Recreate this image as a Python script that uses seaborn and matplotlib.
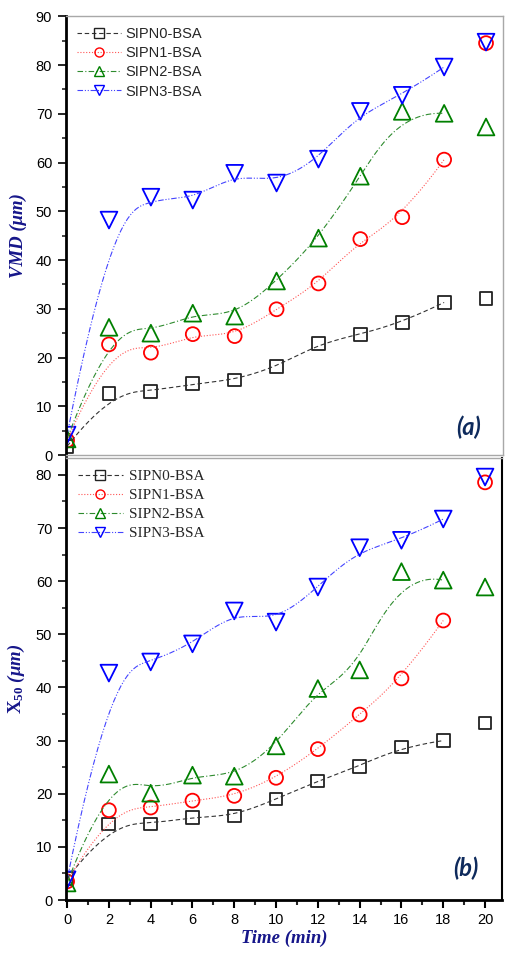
import matplotlib
matplotlib.use("Agg")
import matplotlib.pyplot as plt
from matplotlib.lines import Line2D
from matplotlib.ticker import MultipleLocator
import numpy as np
import pandas as pd
import seaborn as sns

# ---------------- data ----------------
time = [0, 2, 4, 6, 8, 10, 12, 14, 16, 18, 20]
series_names = ["SIPN0-BSA", "SIPN1-BSA", "SIPN2-BSA", "SIPN3-BSA"]

# (a) VMD (um)
vmd_sipn0 = [1.8, 12.7, 13.1, 14.6, 15.4, 18.1, 22.8, 24.8, 27.2, 31.3, 32.1]
vmd_sipn1 = [3.0, 22.7, 21.0, 24.8, 24.4, 29.9, 35.2, 44.3, 48.8, 60.6, 84.5]
vmd_sipn2 = [3.3, 26.2, 25.0, 29.1, 28.5, 35.7, 44.5, 57.2, 70.5, 70.1, 67.3]
vmd_sipn3 = [4.1, 48.2, 52.9, 52.3, 57.8, 55.8, 60.7, 70.5, 73.8, 79.6, 84.7]

# (b) X50 (um)
x50_sipn0 = [4.0, 14.3, 14.3, 15.6, 15.8, 19.0, 22.4, 25.2, 28.8, 30.0, 33.3]
x50_sipn1 = [3.5, 16.9, 17.4, 18.7, 19.6, 23.0, 28.4, 34.9, 41.7, 52.6, 78.6]
x50_sipn2 = [3.2, 23.7, 20.1, 23.5, 23.3, 29.0, 39.8, 43.3, 61.8, 60.2, 58.9]
x50_sipn3 = [3.8, 42.7, 44.8, 48.2, 54.4, 52.3, 58.9, 66.3, 67.7, 71.7, 79.6]

# style per series
colors = ["#222222", "#FF0000", "#008000", "#0000FF"]
line_colors = ["#333333", "#FF5555", "#2E8B2E", "#4444FF"]
markers = ["s", "o", "^", "v"]
marker_area = [85, 100, 145, 145]
dashes = [(4, 2.5), (1, 1.6), (5, 2, 1, 2), (5, 1.6, 1, 1.6, 1, 1.6)]
label_navy = "#16168A"
panel_navy = "#0E2A5C"


def bspline(x, y, n=300, k=3):
    """clamped cubic B-spline using the points as control points"""
    P = np.column_stack([x, y]).astype(float)
    m = len(P)
    knots = np.concatenate([np.zeros(k), np.arange(m - k + 1), np.full(k, m - k)]).astype(float)
    u = np.linspace(0, m - k, n)
    N = np.zeros((n, len(knots) - 1))
    for i in range(len(knots) - 1):
        N[:, i] = (knots[i] <= u) & (u < knots[i + 1])
    N[u == u[-1], m - 1] = 1.0
    for p in range(1, k + 1):
        newN = np.zeros((n, len(knots) - 1 - p))
        for i in range(len(knots) - 1 - p):
            d1 = knots[i + p] - knots[i]
            d2 = knots[i + p + 1] - knots[i + 1]
            term = np.zeros(n)
            if d1 > 0:
                term += (u - knots[i]) / d1 * N[:, i]
            if d2 > 0:
                term += (knots[i + p + 1] - u) / d2 * N[:, i + 1]
            newN[:, i] = term
        N = newN
    C = N @ P
    return C[:, 0], C[:, 1]


sns.set_theme(style="ticks")
plt.rcParams["font.family"] = ["Liberation Sans", "DejaVu Sans"]
plt.rcParams["mathtext.fontset"] = "custom"
plt.rcParams["mathtext.rm"] = "Liberation Serif:bold"
plt.rcParams["mathtext.bf"] = "Liberation Serif:bold"
plt.rcParams["mathtext.it"] = "Liberation Serif:bold:italic"

fig = plt.figure(figsize=(5.12, 9.6), dpi=100)
ax_a = fig.add_axes([0.129, 0.526, 0.853, 0.457])
ax_b = fig.add_axes([0.129, 0.0625, 0.851, 0.4605])


def draw_panel(ax, values, legend_font):
    for vals, c, lc, mk, sz, ds in zip(values, colors, line_colors, markers, marker_area, dashes):
        cx, cy = bspline(time[:10], vals[:10])
        df = pd.DataFrame({"t": cx, "v": cy})
        sns.lineplot(data=df, x="t", y="v", ax=ax, color=lc, linewidth=0.8,
                     dashes=False, sort=False, estimator=None, legend=False)
        ax.lines[-1].set_dashes(ds)
    for vals, c, mk, sz in zip(values, colors, markers, marker_area):
        sns.scatterplot(x=time, y=vals, ax=ax, marker=mk, s=sz, legend=False)
        pc = ax.collections[-1]
        pc.set_facecolor("none")
        pc.set_edgecolor(c)
        pc.set_linewidth(1.3)

    handles = [Line2D([], [], color=lc, lw=0.8, dashes=ds, marker=mk, ms=6.5,
                      mfc="none", mec=c, mew=1.0)
               for c, lc, mk, ds in zip(colors, line_colors, markers, dashes)]
    ax.legend(handles, series_names, loc="upper left", frameon=False,
              prop=legend_font, handlelength=3.0, handletextpad=0.35,
              labelspacing=0.35, borderaxespad=0.45, borderpad=0.3)

    ax.set_xlim(-0.05, 20.8)
    ax.yaxis.set_major_locator(MultipleLocator(10))
    ax.yaxis.set_minor_locator(MultipleLocator(5))
    ax.xaxis.set_major_locator(MultipleLocator(2))
    ax.xaxis.set_minor_locator(MultipleLocator(1))
    ax.tick_params(axis="y", which="major", direction="out", length=6, width=1.2,
                   labelsize=10.5, pad=4, colors="black")
    ax.tick_params(axis="y", which="minor", direction="out", length=3, width=1.2)
    for side in ["top", "right", "bottom"]:
        ax.spines[side].set_visible(True)
        ax.spines[side].set_color("#A8A8A8")
        ax.spines[side].set_linewidth(1.0)
    ax.spines["left"].set_color("black")
    ax.spines["left"].set_linewidth(2.0)
    ax.set_facecolor("white")
    ax.grid(False)


# panel (a)
draw_panel(ax_a, [vmd_sipn0, vmd_sipn1, vmd_sipn2, vmd_sipn3],
           {"family": "Liberation Sans", "size": 10.5})
ax_a.set_ylim(0, 90)
ax_a.tick_params(axis="x", which="both", bottom=False, labelbottom=False)
ax_a.set_xlabel("")
ax_a.set_ylabel("VMD (μm)", family="Liberation Serif", weight="bold", style="italic",
                fontsize=13.5, color=label_navy, labelpad=6)
ax_a.text(0.922, 0.064, "(a)", transform=ax_a.transAxes, ha="center", va="center",
          family=["Lato", "DejaVu Sans"], weight="bold", style="italic",
          fontsize=17, color=panel_navy)

# panel (b)
draw_panel(ax_b, [x50_sipn0, x50_sipn1, x50_sipn2, x50_sipn3],
           {"family": "Liberation Serif", "size": 11})
ax_b.set_ylim(0, 83.2)
ax_b.spines["bottom"].set_color("black")
ax_b.spines["bottom"].set_linewidth(2.0)
ax_b.spines["right"].set_color("black")
ax_b.spines["right"].set_linewidth(1.5)
ax_b.tick_params(axis="x", which="major", direction="out", length=6, width=1.5,
                 labelsize=10.5, pad=3, colors="black")
ax_b.tick_params(axis="x", which="minor", direction="out", length=3.5, width=1.5)
ax_b.set_ylabel(r"$\mathrm{X}_{50}$ (μm)", family="Liberation Serif", weight="bold",
                style="italic", fontsize=13.5, color=label_navy, labelpad=6)
ax_b.set_xlabel("Time (min)", family="Liberation Serif", weight="bold", style="italic",
                fontsize=13.5, color=label_navy, labelpad=2)
ax_b.text(0.917, 0.072, "(b)", transform=ax_b.transAxes, ha="center", va="center",
          family=["Lato", "DejaVu Sans"], weight="bold", style="italic",
          fontsize=17, color=panel_navy)

fig.savefig("out.png", dpi=100, facecolor="white")
